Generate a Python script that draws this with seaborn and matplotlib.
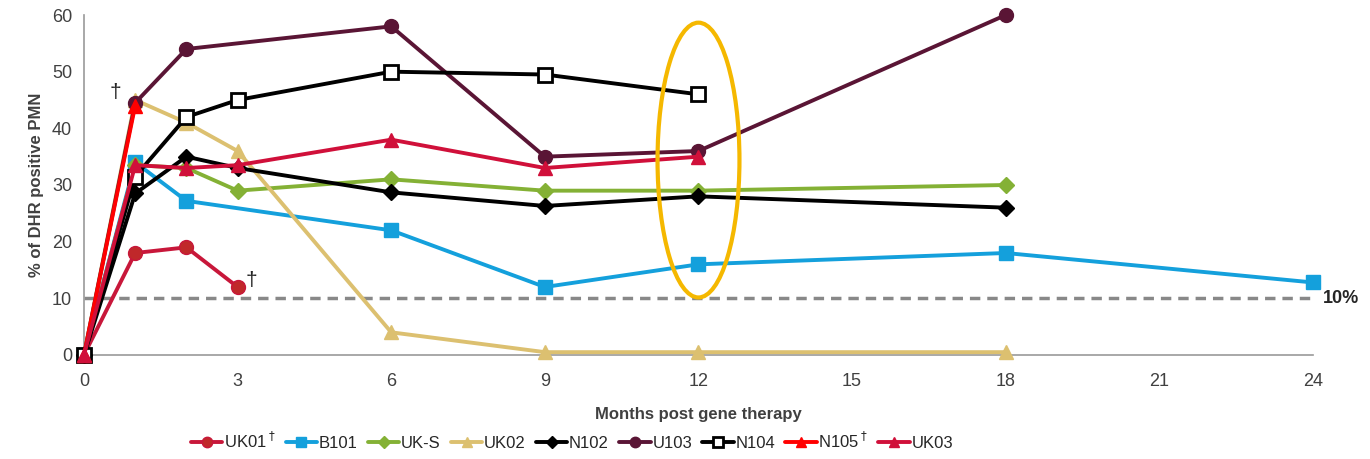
import matplotlib
matplotlib.use("Agg")
import matplotlib.pyplot as plt
from matplotlib.patches import Ellipse
from matplotlib.lines import Line2D
import pandas as pd
import seaborn as sns

# 各患者数据（月份, DHR 阳性 PMN %）
uk01_x = [0, 1, 2, 3]
uk01_y = [0, 18, 19, 12]
b101_x = [0, 1, 2, 6, 9, 12, 18, 24]
b101_y = [0, 34, 27.2, 22, 12, 16, 18, 12.8]
uks_x = [0, 1, 2, 3, 6, 9, 12, 18]
uks_y = [0, 33.5, 33, 29, 31, 29, 29, 30]
uk02_x = [0, 1, 2, 3, 6, 9, 12, 18]
uk02_y = [0, 45, 41, 36, 4, 0.5, 0.5, 0.5]
n102_x = [0, 1, 2, 3, 6, 9, 12, 18]
n102_y = [0, 28.5, 35, 33, 28.7, 26.3, 28, 26]
u103_x = [0, 1, 2, 6, 9, 12, 18]
u103_y = [0, 44.5, 54, 58, 35, 36, 60]
n104_x = [0, 1, 2, 3, 6, 9, 12]
n104_y = [0, 31.5, 42, 45, 50, 49.5, 46]
n105_x = [0, 1]
n105_y = [0, 44]
uk03_x = [0, 1, 2, 3, 6, 9, 12]
uk03_y = [0, 33.5, 33, 33.5, 38, 33, 35]

threshold = 10
x_ticks = [0, 3, 6, 9, 12, 15, 18, 21, 24]
y_ticks = [0, 10, 20, 30, 40, 50, 60]

series = [
    ("UK01$^\\dagger$", uk01_x, uk01_y, "#C8173A", "o", "#C0282A"),
    ("B101", b101_x, b101_y, "#14A0DC", "s", "#14A0DC"),
    ("UK-S", uks_x, uks_y, "#84B135", "D", "#84B135"),
    ("UK02", uk02_x, uk02_y, "#DCC070", "^", "#DCC070"),
    ("N102", n102_x, n102_y, "#000000", "D", "#000000"),
    ("U103", u103_x, u103_y, "#5A1535", "o", "#5A1535"),
    ("N104", n104_x, n104_y, "#000000", "s", "#FFFFFF"),
    ("N105$^\\dagger$", n105_x, n105_y, "#FF0000", "^", "#FF0000"),
    ("UK03", uk03_x, uk03_y, "#D0103A", "^", "#D0103A"),
]

sns.set_style("white")
plt.rcParams["font.family"] = ["Liberation Sans", "DejaVu Sans"]

fig = plt.figure(figsize=(13.7, 4.59), dpi=100)
ax = fig.add_axes([0.0613, 0.2266, 0.8971, 0.7407])

# 10% 阈值虚线
ax.axhline(threshold, color="#888888", lw=2.5, ls=(0, (3, 2)), zorder=1)
ax.text(24.2, threshold, "10%", fontsize=13, fontweight="bold", va="center", ha="left")

handles = []
for name, xs, ys, col, mk, fc in series:
    df = pd.DataFrame({"m": xs, "v": ys})
    ms = {"o": 10, "s": 10.5, "D": 8, "^": 10}[mk]
    ec = "#000000" if name == "N104" else col
    mew = 2 if name == "N104" else 1
    sns.lineplot(data=df, x="m", y="v", ax=ax, color=col, lw=2.8, marker=mk,
                 markersize=ms, markerfacecolor=fc, markeredgecolor=ec,
                 markeredgewidth=mew, clip_on=False, zorder=3)
    handles.append(Line2D([], [], color=col, lw=2.8, marker=mk,
                          markersize=ms * 0.75, markerfacecolor=fc,
                          markeredgecolor=ec, markeredgewidth=mew, label=name))

# 12 个月处的黄色椭圆
ax.add_patch(Ellipse((12, 34.4), 1.6, 48.5, fill=False, ec="#F5B800", lw=3, zorder=4))

# 死亡标记
ax.text(3.15, 13.2, "†", fontsize=15, ha="left", va="center")
ax.text(0.72, 46.3, "†", fontsize=15, ha="right", va="center")

ax.set_xlim(0, 24)
ax.set_ylim(0, 60)
ax.set_xticks(x_ticks)
ax.set_yticks(y_ticks)
ax.tick_params(axis="both", colors="#999999", labelsize=13, length=5, width=1, direction="out")
ax.tick_params(axis="both", labelcolor="#404040")
ax.tick_params(axis="x", pad=8)
for s in ["top", "right"]:
    ax.spines[s].set_visible(False)
for s in ["left", "bottom"]:
    ax.spines[s].set_color("#999999")
    ax.spines[s].set_linewidth(1.2)

ax.set_xlabel("Months post gene therapy", fontsize=12, fontweight="bold", color="#404040", labelpad=12)
ax.set_ylabel("% of DHR positive PMN", fontsize=12, fontweight="bold", color="#404040", labelpad=6)

ax.legend(handles=handles, loc="center", bbox_to_anchor=(0.397, -0.253), ncol=9, frameon=False,
          fontsize=12, handlelength=1.9, handletextpad=0.1, columnspacing=0.6)

fig.savefig("out.png", dpi=100)
